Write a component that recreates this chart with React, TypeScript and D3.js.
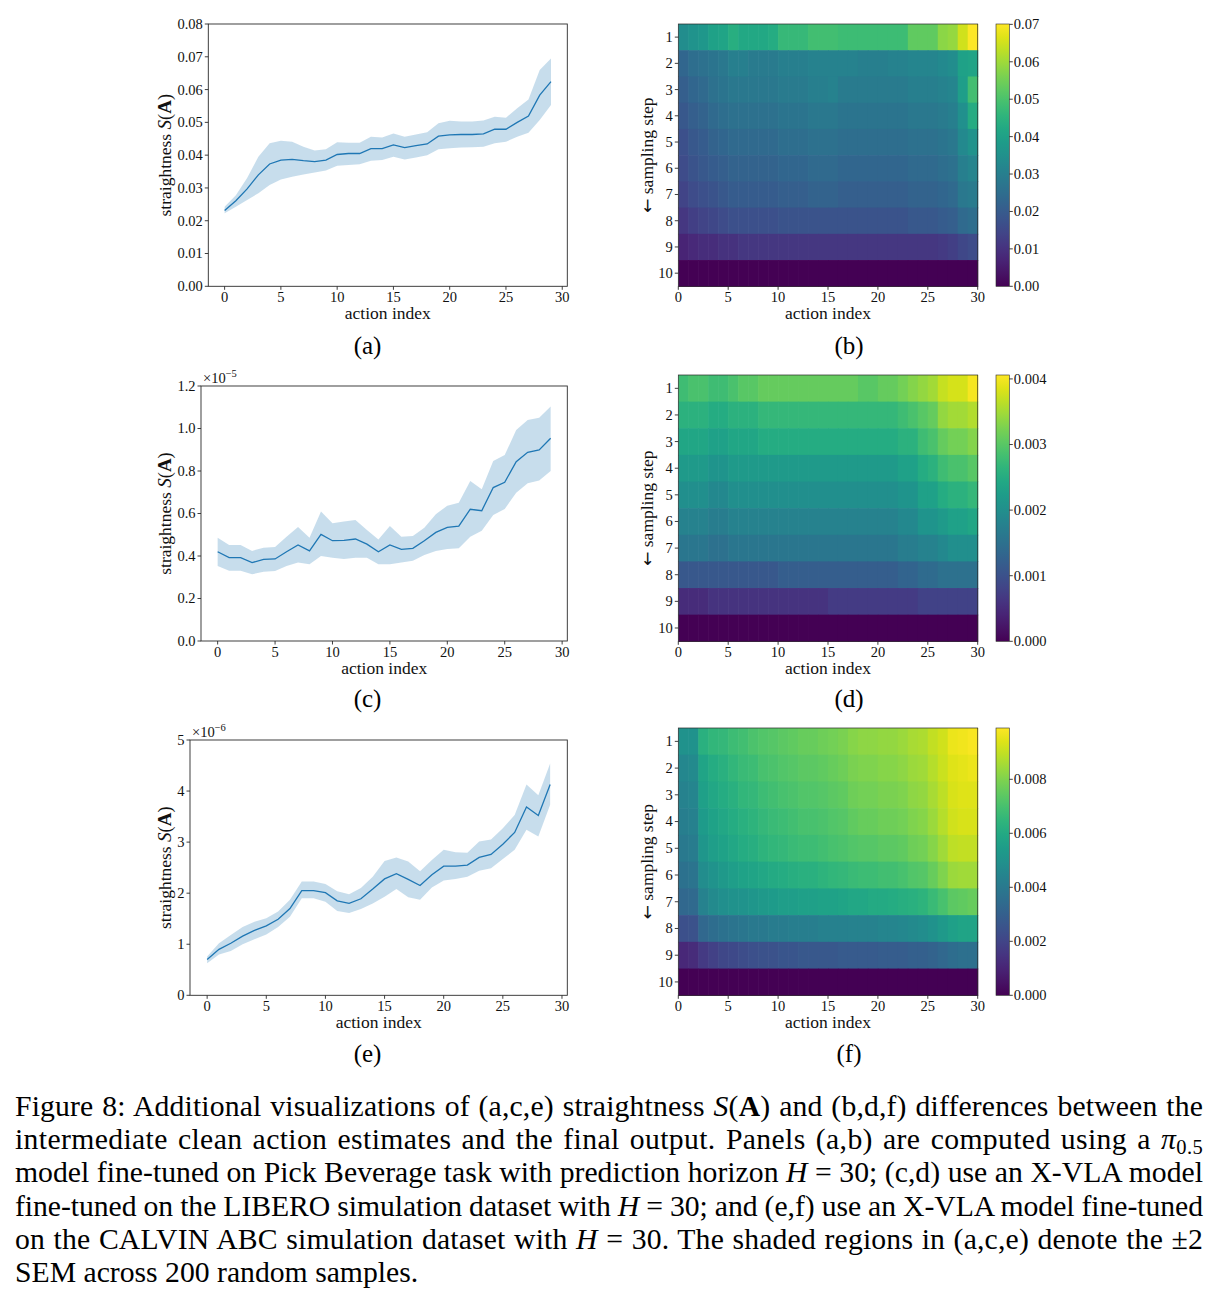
import * as d3 from "d3";
import React, { useLayoutEffect, useRef } from "react";

// ---- straightness S(A) per action index (mean and ±2 SEM band) ----
// (a) pi0.5, Pick Beverage
const pickMean = [0.0231, 0.0261, 0.0297, 0.034, 0.0373, 0.0385, 0.0387, 0.0383, 0.038, 0.0385, 0.0402, 0.0405, 0.0405, 0.042, 0.042, 0.0431, 0.0423, 0.0429, 0.0434, 0.0458, 0.0462, 0.0463, 0.0463, 0.0465, 0.0479, 0.0479, 0.05, 0.0519, 0.0583, 0.0624];
const pickUpper = [0.0243, 0.0278, 0.033, 0.0395, 0.0436, 0.0444, 0.0441, 0.0426, 0.0414, 0.0418, 0.0439, 0.0438, 0.0438, 0.0456, 0.0454, 0.0466, 0.0456, 0.0463, 0.047, 0.0497, 0.0505, 0.0503, 0.0503, 0.0506, 0.0517, 0.0514, 0.0543, 0.057, 0.066, 0.0695];
const pickLower = [0.0223, 0.0243, 0.0263, 0.0284, 0.0309, 0.0326, 0.0334, 0.0341, 0.0347, 0.0353, 0.0368, 0.037, 0.0372, 0.0383, 0.0385, 0.0395, 0.0387, 0.0393, 0.04, 0.0418, 0.0421, 0.0423, 0.0424, 0.0426, 0.0436, 0.0441, 0.0456, 0.0468, 0.0507, 0.0553];

// (c) X-VLA, LIBERO — units of 1e-5
const liberoMean = [0.42, 0.392, 0.392, 0.369, 0.384, 0.386, 0.42, 0.452, 0.424, 0.502, 0.472, 0.474, 0.48, 0.456, 0.42, 0.452, 0.431, 0.436, 0.472, 0.511, 0.535, 0.541, 0.62, 0.613, 0.722, 0.747, 0.844, 0.888, 0.899, 0.954];
const liberoUpper = [0.486, 0.452, 0.452, 0.424, 0.439, 0.442, 0.491, 0.536, 0.486, 0.609, 0.554, 0.562, 0.569, 0.522, 0.478, 0.541, 0.491, 0.494, 0.533, 0.596, 0.637, 0.651, 0.753, 0.714, 0.847, 0.875, 0.993, 1.04, 1.051, 1.103];
const liberoLower = [0.353, 0.331, 0.331, 0.314, 0.326, 0.329, 0.353, 0.37, 0.361, 0.4, 0.392, 0.386, 0.392, 0.392, 0.361, 0.361, 0.369, 0.378, 0.405, 0.424, 0.433, 0.436, 0.491, 0.519, 0.593, 0.621, 0.698, 0.742, 0.755, 0.8];

// (e) X-VLA, CALVIN ABC — units of 1e-6
const calvinMean = [0.7, 0.9, 1.02, 1.16, 1.27, 1.36, 1.49, 1.7, 2.05, 2.05, 2.01, 1.85, 1.8, 1.89, 2.08, 2.28, 2.38, 2.27, 2.15, 2.36, 2.53, 2.53, 2.55, 2.7, 2.76, 2.96, 3.19, 3.69, 3.52, 4.13];
const calvinUpper = [0.76, 1.02, 1.18, 1.34, 1.44, 1.51, 1.64, 1.87, 2.23, 2.23, 2.18, 2.04, 1.98, 2.1, 2.32, 2.63, 2.7, 2.62, 2.43, 2.65, 2.85, 2.8, 2.79, 3.01, 3.05, 3.27, 3.53, 4.13, 3.92, 4.54];
const calvinLower = [0.63, 0.8, 0.87, 1.0, 1.1, 1.19, 1.34, 1.54, 1.9, 1.9, 1.83, 1.65, 1.61, 1.69, 1.8, 1.93, 2.08, 1.92, 1.87, 2.11, 2.25, 2.28, 2.32, 2.44, 2.49, 2.67, 2.85, 3.24, 3.11, 3.73];

// ---- difference to final output, rows = sampling step 1..10, cols = action index ----
// (b) units of 1e-3
const pickDiff = [
  [34, 36, 37, 40, 41, 44, 42, 42, 42, 43, 47, 47, 47, 49, 49, 49, 48, 48, 48, 48, 48, 48, 48, 53, 53, 53, 58, 59, 65, 70],
  [23, 25, 26, 27, 28, 30, 30, 29, 29, 29, 30, 30, 30, 31, 31, 31, 31, 31, 30, 30, 30, 31, 31, 32, 32, 32, 33, 34, 40, 41],
  [21, 23, 24, 26, 27, 28, 28, 28, 28, 28, 29, 29, 29, 30, 30, 31, 29, 29, 29, 29, 29, 29, 29, 30, 30, 30, 31, 32, 39, 49],
  [19, 21, 22, 24, 25, 26, 26, 26, 26, 26, 27, 27, 27, 28, 28, 28, 27, 27, 27, 27, 27, 27, 27, 28, 28, 28, 29, 30, 35, 43],
  [17, 19, 20, 22, 23, 24, 24, 24, 24, 24, 25, 25, 25, 26, 26, 26, 25, 25, 25, 25, 25, 25, 25, 26, 26, 26, 27, 28, 33, 36],
  [16, 18, 19, 20, 21, 22, 22, 22, 22, 22, 23, 23, 23, 24, 24, 24, 23, 23, 23, 23, 23, 23, 23, 24, 24, 24, 25, 26, 30, 32],
  [14, 16, 17, 18, 19, 20, 20, 20, 20, 20, 21, 21, 21, 22, 22, 22, 21, 21, 21, 21, 21, 21, 21, 22, 22, 22, 23, 24, 28, 29],
  [11, 13, 14, 15, 16, 17, 17, 17, 17, 17, 18, 18, 18, 18, 18, 18, 18, 18, 18, 18, 18, 18, 18, 19, 19, 19, 20, 21, 24, 25],
  [7, 8, 9, 9, 10, 10, 11, 11, 11, 11, 11, 11, 11, 11, 11, 11, 11, 11, 11, 11, 11, 11, 11, 11, 11, 11, 12, 13, 15, 16],
  [0, 0, 0, 0, 0, 0, 0, 0, 0, 0, 0, 0, 0, 0, 0, 0, 0, 0, 0, 0, 0, 0, 0, 0, 0, 0, 0, 0, 0, 0],
];
// (d) units of 1e-4
const liberoDiff = [
  [28, 29, 29, 28, 28, 29, 30, 30, 31, 31, 31, 31, 31, 31, 31, 31, 31, 31, 30, 30, 31, 31, 32, 33, 34, 35, 37, 38, 38, 40],
  [26, 26, 26, 25, 25, 26, 26, 26, 27, 27, 27, 27, 27, 27, 27, 27, 27, 27, 27, 27, 27, 27, 28, 29, 30, 31, 34, 35, 35, 36],
  [24, 24, 24, 23, 23, 24, 24, 24, 25, 25, 25, 25, 25, 25, 25, 25, 25, 25, 25, 25, 25, 25, 26, 26, 28, 29, 31, 32, 32, 33],
  [22, 22, 22, 21, 21, 22, 22, 22, 22, 22, 22, 22, 22, 22, 22, 22, 22, 22, 22, 22, 22, 22, 23, 23, 25, 26, 28, 29, 29, 30],
  [20, 20, 20, 19, 19, 20, 20, 20, 20, 20, 20, 20, 20, 20, 20, 20, 20, 20, 20, 20, 20, 20, 21, 21, 23, 23, 25, 26, 26, 27],
  [18, 18, 18, 17, 17, 18, 18, 18, 18, 18, 18, 18, 18, 18, 18, 18, 18, 18, 18, 18, 18, 18, 19, 19, 21, 21, 22, 23, 23, 24],
  [16, 16, 16, 15, 15, 16, 16, 16, 16, 16, 16, 16, 16, 16, 16, 16, 16, 16, 16, 16, 16, 16, 17, 17, 18, 18, 19, 20, 20, 20],
  [11, 11, 11, 11, 11, 11, 11, 11, 11, 11, 12, 12, 12, 12, 12, 12, 12, 12, 12, 12, 12, 12, 13, 13, 14, 14, 15, 15, 15, 15],
  [5, 5, 5, 6, 6, 6, 6, 6, 6, 6, 6, 6, 6, 6, 6, 7, 7, 7, 7, 7, 7, 7, 7, 7, 8, 8, 8, 8, 8, 8],
  [0, 0, 0, 0, 0, 0, 0, 0, 0, 0, 0, 0, 0, 0, 0, 0, 0, 0, 0, 0, 0, 0, 0, 0, 0, 0, 0, 0, 0, 0],
];
// (f) units of 1e-4
const calvinDiff = [
  [50, 50, 63, 65, 66, 68, 69, 71, 72, 73, 74, 75, 76, 76, 77, 78, 79, 81, 82, 82, 83, 83, 84, 86, 87, 90, 92, 96, 97, 98],
  [46, 47, 58, 61, 63, 65, 67, 68, 70, 71, 72, 73, 74, 74, 75, 76, 77, 79, 80, 80, 81, 81, 82, 84, 85, 88, 91, 94, 95, 96],
  [44, 45, 56, 59, 61, 63, 65, 66, 68, 69, 70, 71, 72, 72, 73, 74, 75, 77, 78, 78, 79, 79, 80, 82, 83, 86, 89, 93, 94, 94],
  [42, 43, 54, 57, 59, 61, 63, 64, 66, 67, 68, 69, 70, 70, 71, 72, 73, 75, 76, 76, 77, 77, 78, 80, 81, 84, 88, 92, 93, 93],
  [40, 41, 52, 55, 57, 59, 61, 62, 64, 65, 66, 67, 68, 68, 69, 70, 71, 72, 73, 73, 74, 74, 75, 77, 78, 81, 85, 89, 90, 90],
  [37, 38, 48, 51, 53, 55, 57, 58, 59, 60, 61, 62, 63, 63, 64, 65, 66, 67, 68, 68, 69, 69, 70, 72, 73, 76, 80, 84, 85, 85],
  [33, 34, 44, 47, 49, 50, 51, 52, 53, 54, 55, 55, 56, 56, 57, 57, 58, 59, 59, 60, 60, 61, 62, 63, 64, 67, 70, 74, 75, 76],
  [24, 25, 33, 35, 37, 38, 39, 40, 40, 41, 41, 42, 42, 42, 43, 43, 43, 44, 44, 44, 45, 45, 46, 47, 48, 50, 53, 56, 58, 58],
  [11, 12, 17, 19, 21, 22, 23, 24, 25, 25, 26, 26, 27, 27, 27, 27, 28, 28, 28, 28, 29, 29, 29, 30, 30, 31, 33, 35, 36, 36],
  [0, 0, 0, 0, 0, 0, 0, 0, 0, 0, 0, 0, 0, 0, 0, 0, 0, 0, 0, 0, 0, 0, 0, 0, 0, 0, 0, 0, 0, 0],
];

const actionTicks = [0, 5, 10, 15, 20, 25, 30];
const stepTicks = [1, 2, 3, 4, 5, 6, 7, 8, 9, 10];

type Seg = { t: string; s?: "i" | "b" | "sub" };
const captionLines: Seg[][] = [
  [{ t: "Figure 8: Additional visualizations of (a,c,e) straightness " }, { t: "S", s: "i" }, { t: "(" }, { t: "A", s: "b" }, { t: ") and (b,d,f) differences between the" }],
  [{ t: "intermediate clean action estimates and the final output. Panels (a,b) are computed using a " }, { t: "π", s: "i" }, { t: "0.5", s: "sub" }],
  [{ t: "model fine-tuned on Pick Beverage task with prediction horizon " }, { t: "H", s: "i" }, { t: " = 30; (c,d) use an X-VLA model" }],
  [{ t: "fine-tuned on the LIBERO simulation dataset with " }, { t: "H", s: "i" }, { t: " = 30; and (e,f) use an X-VLA model fine-tuned" }],
  [{ t: "on the CALVIN ABC simulation dataset with " }, { t: "H", s: "i" }, { t: " = 30. The shaded regions in (a,c,e) denote the ±2" }],
  [{ t: "SEM across 200 random samples." }],
];

const SERIF = '"Liberation Serif", "Times New Roman", serif';
const AX = "#2a2a2a";
const C0 = "#1f77b4";

type Box = { x0: number; x1: number; y0: number; y1: number };

function LinePanel({ box, mean, upper, lower, yMax, yTicks, fmt, exp }: {
  box: Box; mean: number[]; upper: number[]; lower: number[];
  yMax: number; yTicks: number[]; fmt: (v: number) => string; exp?: string;
}) {
  const x = d3.scaleLinear().domain([-1.45, 30.45]).range([box.x0, box.x1]);
  const y = d3.scaleLinear().domain([0, yMax]).range([box.y1, box.y0]);
  const band = d3.area<number>().x((_, i) => x(i)).y0((_, i) => y(lower[i])).y1((d) => y(d));
  const line = d3.line<number>().x((_, i) => x(i)).y((d) => y(d));
  const cy = (box.y0 + box.y1) / 2;
  return (
    <g fontFamily={SERIF} fill="#111">
      <path d={band(upper) ?? ""} fill={C0} fillOpacity={0.25} />
      <path d={line(mean) ?? ""} fill="none" stroke={C0} strokeWidth={1.3} />
      <rect x={box.x0} y={box.y0} width={box.x1 - box.x0} height={box.y1 - box.y0} fill="none" stroke={AX} strokeWidth={0.9} />
      {actionTicks.map((t) => (
        <g key={t}>
          <line x1={x(t)} x2={x(t)} y1={box.y1} y2={box.y1 + 3.5} stroke={AX} strokeWidth={0.9} />
          <text x={x(t)} y={box.y1 + 15.5} textAnchor="middle" fontSize={14.5}>{t}</text>
        </g>
      ))}
      {yTicks.map((t) => (
        <g key={t}>
          <line x1={box.x0 - 3.5} x2={box.x0} y1={y(t)} y2={y(t)} stroke={AX} strokeWidth={0.9} />
          <text x={box.x0 - 5.5} y={y(t)} dy="0.34em" textAnchor="end" fontSize={14.5}>{fmt(t)}</text>
        </g>
      ))}
      <text x={(box.x0 + box.x1) / 2} y={box.y1 + 33} textAnchor="middle" fontSize={17.5}>action index</text>
      <text transform={`translate(170.5,${cy}) rotate(-90)`} textAnchor="middle" fontSize={17.5}>
        straightness <tspan fontStyle="italic" fontSize={19}>S</tspan>
        <tspan fontSize={18.5}>(</tspan>
        <tspan fontWeight="bold" fontSize={19}>A</tspan>
        <tspan fontSize={18.5}>)</tspan>
      </text>
      {exp && (
        <text x={box.x0 + 2} y={box.y0 - 3} fontSize={14.5}>
          ×10<tspan dy={-6} fontSize={10.5}>−{exp}</tspan>
        </text>
      )}
    </g>
  );
}

function HeatPanel({ id, box, rows, unit, vmax, cbTicks, fmt }: {
  id: string; box: Box; rows: number[][]; unit: number; vmax: number;
  cbTicks: number[]; fmt: (v: number) => string;
}) {
  const x = d3.scaleLinear().domain([0, 30]).range([box.x0, box.x1]);
  const y = d3.scaleLinear().domain([0.5, 10.5]).range([box.y0, box.y1]);
  const color = d3.scaleSequential(d3.interpolateViridis).domain([0, vmax]);
  const cb = { x0: 996, x1: 1009.3 };
  const cy = d3.scaleLinear().domain([0, vmax]).range([box.y1, box.y0]);
  const stops = d3.range(0, 1.0001, 0.05);
  const mid = (box.y0 + box.y1) / 2;
  return (
    <g fontFamily={SERIF} fill="#111">
      <defs>
        <linearGradient id={id} x1="0" y1="1" x2="0" y2="0">
          {stops.map((s) => (
            <stop key={s} offset={s} stopColor={d3.interpolateViridis(s)} />
          ))}
        </linearGradient>
      </defs>
      {rows.map((row, i) =>
        row.map((v, j) => (
          <rect
            key={`${i}-${j}`}
            x={x(j)}
            y={y(i + 0.5)}
            width={x(j + 1) - x(j) + 0.6}
            height={y(i + 1.5) - y(i + 0.5) + 0.6}
            fill={color(v * unit)}
          />
        ))
      )}
      <rect x={box.x0} y={box.y0} width={box.x1 - box.x0} height={box.y1 - box.y0} fill="none" stroke={AX} strokeWidth={0.7} />
      {actionTicks.map((t) => (
        <g key={t}>
          <line x1={x(t)} x2={x(t)} y1={box.y1} y2={box.y1 + 3.5} stroke={AX} strokeWidth={0.9} />
          <text x={x(t)} y={box.y1 + 15.5} textAnchor="middle" fontSize={14.5}>{t}</text>
        </g>
      ))}
      {stepTicks.map((t) => (
        <g key={t}>
          <line x1={box.x0 - 3.5} x2={box.x0} y1={y(t)} y2={y(t)} stroke={AX} strokeWidth={0.9} />
          <text x={box.x0 - 5.5} y={y(t)} dy="0.34em" textAnchor="end" fontSize={14.5}>{t}</text>
        </g>
      ))}
      <text x={(box.x0 + box.x1) / 2} y={box.y1 + 33} textAnchor="middle" fontSize={17.5}>action index</text>
      <text transform={`translate(653,${mid}) rotate(-90)`} textAnchor="middle" fontSize={17.5}>
        <tspan fontFamily='"DejaVu Sans", sans-serif' fontSize={17}>←</tspan> sampling step
      </text>
      <rect x={cb.x0} y={box.y0} width={cb.x1 - cb.x0} height={box.y1 - box.y0} fill={`url(#${id})`} stroke={AX} strokeWidth={0.6} />
      {cbTicks.map((t) => (
        <g key={t}>
          <line x1={cb.x1} x2={cb.x1 + 3.5} y1={cy(t)} y2={cy(t)} stroke={AX} strokeWidth={0.9} />
          <text x={cb.x1 + 4.5} y={cy(t)} dy="0.34em" fontSize={14.5}>{fmt(t)}</text>
        </g>
      ))}
    </g>
  );
}

function Caption() {
  const refs = useRef<(SVGTextElement | null)[]>([]);
  useLayoutEffect(() => {
    // justify lines 1-5: half the slack goes between words, half between letters
    const justify = () => {
      refs.current.forEach((el, i) => {
        if (!el || i === captionLines.length - 1) return;
        el.style.wordSpacing = "0px";
        el.style.letterSpacing = "0px";
        const w = el.getComputedTextLength();
        const txt = captionLines[i].map((s) => s.t).join("");
        const spaces = txt.split(" ").length - 1;
        const slack = 1188 - w;
        el.style.wordSpacing = `${(0.5 * slack) / spaces}px`;
        el.style.letterSpacing = `${(0.5 * slack) / txt.length}px`;
      });
    };
    justify();
    document.fonts?.ready.then(justify);
  }, []);
  return (
    <g fontFamily={SERIF} fontSize={29.7} fill="#000">
      {captionLines.map((segs, i) => (
        <text key={i} ref={(el) => { refs.current[i] = el; }} x={15} y={1116 + i * 33.2}>
          {segs.map((s, k) =>
            s.s === "i" ? <tspan key={k} fontStyle="italic">{s.t}</tspan>
            : s.s === "b" ? <tspan key={k} fontWeight="bold">{s.t}</tspan>
            : s.s === "sub" ? <tspan key={k} dy={5} fontSize={20.5}>{s.t}</tspan>
            : <tspan key={k}>{s.t}</tspan>
          )}
        </text>
      ))}
    </g>
  );
}

const panelLabels = [
  { t: "(a)", x: 367.5, y: 354 }, { t: "(b)", x: 849, y: 354 },
  { t: "(c)", x: 367.5, y: 707 }, { t: "(d)", x: 849, y: 707 },
  { t: "(e)", x: 367.5, y: 1062 }, { t: "(f)", x: 849, y: 1062 },
];

export default function App() {
  return (
    <svg width={1219} height={1302} style={{ position: "absolute", left: 0, top: 0, background: "#fff" }}>
      <LinePanel box={{ x0: 208.3, x1: 567.3, y0: 24, y1: 286.3 }} mean={pickMean} upper={pickUpper} lower={pickLower}
        yMax={0.08} yTicks={[0, 0.01, 0.02, 0.03, 0.04, 0.05, 0.06, 0.07, 0.08]} fmt={d3.format(".2f")} />
      <LinePanel box={{ x0: 201, x1: 567.3, y0: 386, y1: 641 }} mean={liberoMean} upper={liberoUpper} lower={liberoLower}
        yMax={1.2} yTicks={[0, 0.2, 0.4, 0.6, 0.8, 1.0, 1.2]} fmt={d3.format(".1f")} exp="5" />
      <LinePanel box={{ x0: 190, x1: 567.3, y0: 740, y1: 995.3 }} mean={calvinMean} upper={calvinUpper} lower={calvinLower}
        yMax={5} yTicks={[0, 1, 2, 3, 4, 5]} fmt={d3.format("d")} exp="6" />

      <HeatPanel id="cb-b" box={{ x0: 678.3, x1: 977.7, y0: 24, y1: 286.3 }} rows={pickDiff} unit={1e-3} vmax={0.0701}
        cbTicks={[0, 0.01, 0.02, 0.03, 0.04, 0.05, 0.06, 0.07]} fmt={d3.format(".2f")} />
      <HeatPanel id="cb-d" box={{ x0: 678.3, x1: 977.7, y0: 375, y1: 641.3 }} rows={liberoDiff} unit={1e-4} vmax={0.00406}
        cbTicks={[0, 0.001, 0.002, 0.003, 0.004]} fmt={d3.format(".3f")} />
      <HeatPanel id="cb-f" box={{ x0: 678.3, x1: 977.7, y0: 728, y1: 995.3 }} rows={calvinDiff} unit={1e-4} vmax={0.0099}
        cbTicks={[0, 0.002, 0.004, 0.006, 0.008]} fmt={d3.format(".3f")} />

      {panelLabels.map((p) => (
        <text key={p.t} x={p.x} y={p.y} textAnchor="middle" fontFamily={SERIF} fontSize={25}>{p.t}</text>
      ))}
      <Caption />
    </svg>
  );
}
